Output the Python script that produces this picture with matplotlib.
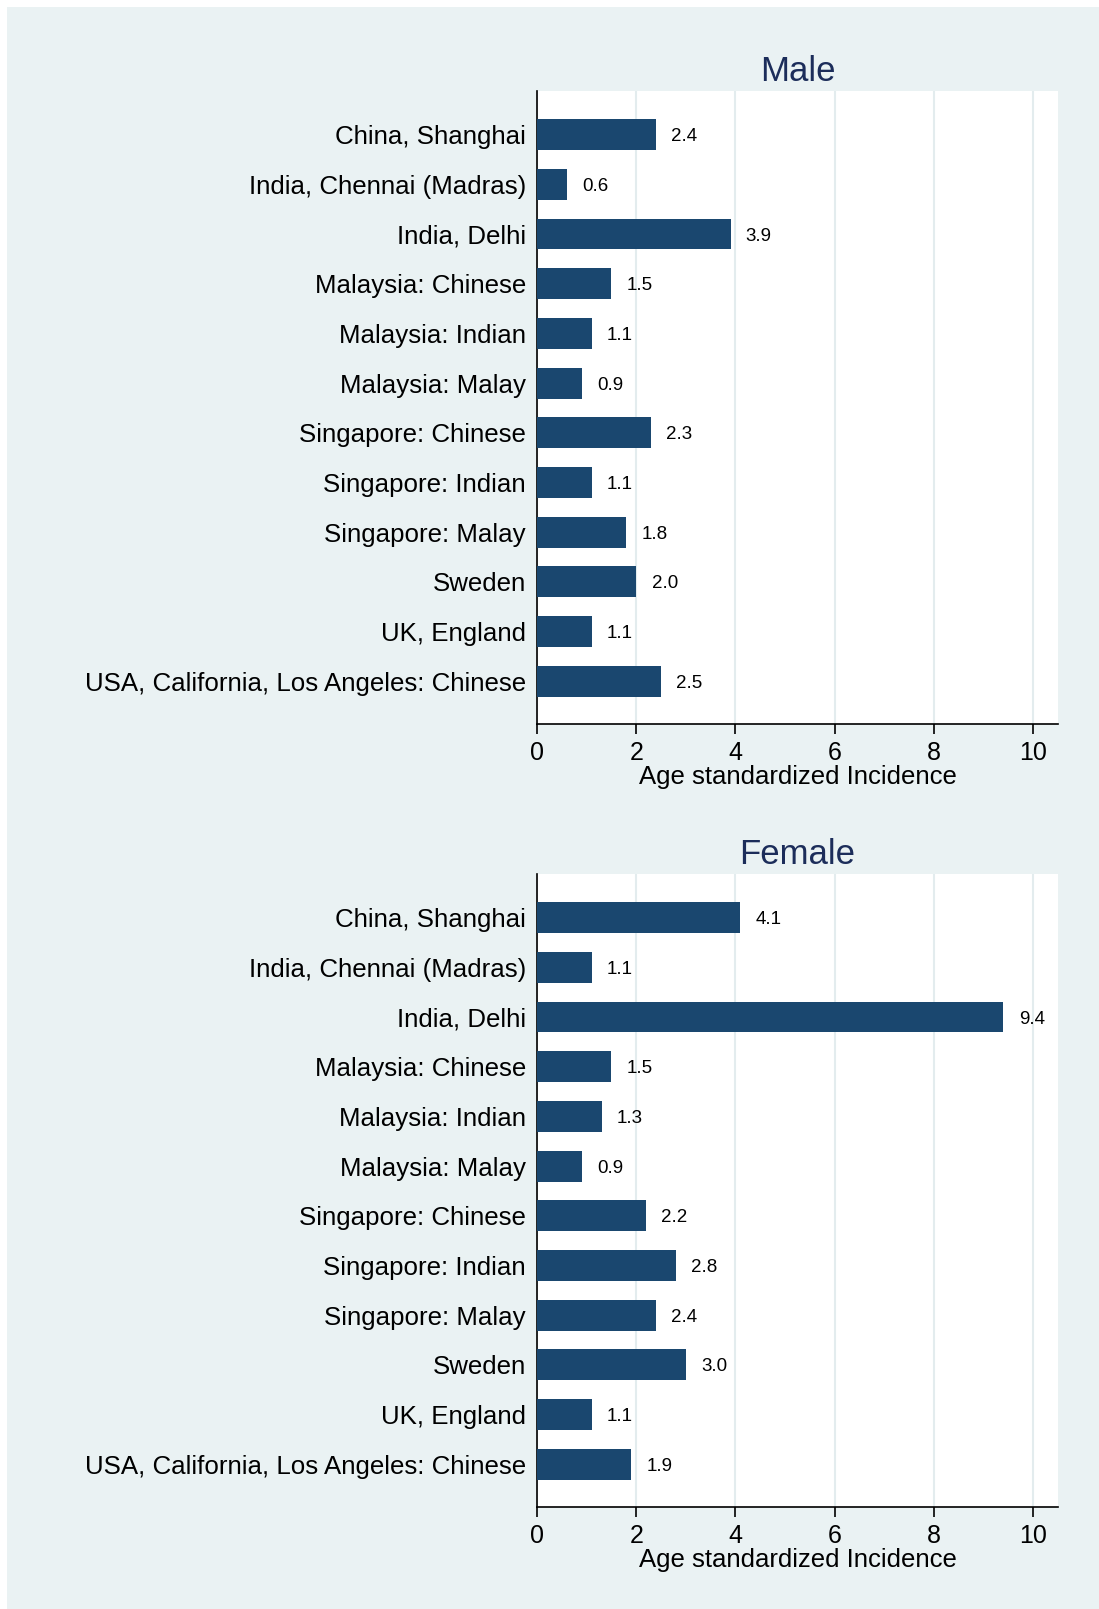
import matplotlib
matplotlib.use("Agg")
import matplotlib.pyplot as plt
from matplotlib.patches import Rectangle

categories = ["China, Shanghai", "India, Chennai (Madras)", "India, Delhi",
              "Malaysia: Chinese", "Malaysia: Indian", "Malaysia: Malay",
              "Singapore: Chinese", "Singapore: Indian", "Singapore: Malay",
              "Sweden", "UK, England", "USA, California, Los Angeles: Chinese"]
male_values = [2.4, 0.6, 3.9, 1.5, 1.1, 0.9, 2.3, 1.1, 1.8, 2.0, 1.1, 2.5]
female_values = [4.1, 1.1, 9.4, 1.5, 1.3, 0.9, 2.2, 2.8, 2.4, 3.0, 1.1, 1.9]
x_ticks = [0, 2, 4, 6, 8, 10]
panel_titles = ["Male", "Female"]
x_label = "Age standardized Incidence"

plt.rcParams['font.family'] = ['Liberation Sans', 'DejaVu Sans']

W, H = 1099, 1609
fig = plt.figure(figsize=(W / 100, H / 100), dpi=100)
fig.patch.set_facecolor("white")
bg = "#EAF2F3"
fig.patches.append(Rectangle((7 / W, 0), 1 - 7 / W, 1 - 7 / H,
                             transform=fig.transFigure, facecolor=bg,
                             edgecolor="none", zorder=-5))

bar_color = "#1A476F"
title_color = "#1C2D5A"

ax_left = 537 / W
ax_width = (1058 - 537) / W
ax_height = (724 - 91) / H
tops = [91, 874]

for title, values, top in zip(panel_titles, [male_values, female_values], tops):
    ax = fig.add_axes([ax_left, 1 - (top / H) - ax_height, ax_width, ax_height])
    ax.set_facecolor("white")
    ypos = list(range(len(categories)))
    ax.barh(ypos, values, height=0.62, color=bar_color, zorder=3)
    for y, v in zip(ypos, values):
        ax.annotate(f"{v:.1f}", (v, y), xytext=(11, 0), textcoords="offset points",
                    ha="left", va="center_baseline", fontsize=13.5, color="black")
    ax.set_yticks(ypos)
    ax.set_yticklabels(categories, fontsize=18.6)
    ax.set_ylim(len(categories) - 1 + 0.86, -0.88)
    ax.set_xlim(0, 10.5)
    ax.set_xticks(x_ticks)
    ax.set_xticklabels([str(t) for t in x_ticks], fontsize=18)
    ax.tick_params(axis="y", length=0, pad=8)
    ax.tick_params(axis="x", length=7, width=1.2, pad=5, direction="out")
    ax.xaxis.grid(True, color="#E3ECEE", linewidth=1.5, zorder=0)
    ax.set_axisbelow(True)
    for s in ["top", "right"]:
        ax.spines[s].set_visible(False)
    for s in ["left", "bottom"]:
        ax.spines[s].set_linewidth(1.2)
        ax.spines[s].set_color("black")
    ax.set_xlabel(x_label, fontsize=18.5, labelpad=0)
    ax.set_title(title, fontsize=25, color=title_color, pad=7)

fig.savefig("out.png", dpi=100, facecolor=fig.get_facecolor())
